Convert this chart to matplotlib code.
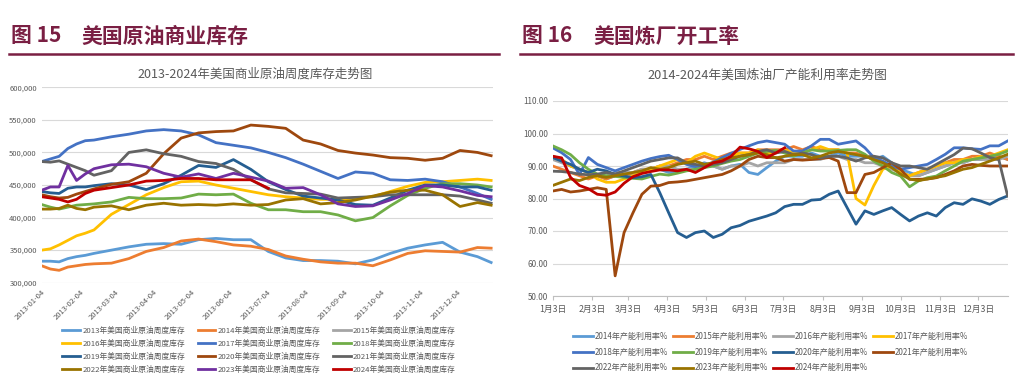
import matplotlib
matplotlib.use("Agg")
import matplotlib.pyplot as plt
from datetime import date

plt.rcParams['font.family'] = ['Noto Sans CJK SC', 'DejaVu Sans']

# ---- 图15: 美国商业原油周度库存 (千桶), x = 距 2013-01-04 的天数 ----
stock_days = [0, 7, 14, 21, 28, 35, 42, 56, 70, 84, 98, 112, 126, 140, 154,
              168, 182, 196, 210, 224, 238, 252, 266, 280, 294, 308, 322, 336, 350, 361]
stock_years = ['2013', '2014', '2015', '2016', '2017', '2018',
               '2019', '2020', '2021', '2022', '2023', '2024']
stock_2013 = [333, 333, 332, 337, 340, 342, 345, 350, 355, 359, 360, 359, 366, 368, 366,
              366, 348, 338, 334, 334, 333, 329, 335, 345, 353, 358, 362, 347, 340, 331]
stock_2014 = [326, 321, 319, 324, 326, 328, 329, 330, 337, 348, 354, 364, 367, 363, 358,
              356, 351, 341, 336, 332, 330, 330, 326, 335, 345, 349, 348, 347, 354, 353]
stock_2015 = []
stock_2016 = [350, 352, 358, 365, 372, 376, 381, 405, 420, 435, 446, 455, 456, 450, 445,
              440, 435, 432, 430, 428, 428, 430, 432, 440, 448, 454, 455, 457, 459, 457]
stock_2017 = [486, 490, 494, 506, 513, 518, 519, 524, 528, 533, 535, 533, 527, 515, 511,
              507, 500, 492, 482, 471, 460, 470, 468, 458, 457, 459, 455, 447, 437, 428]
stock_2018 = [420, 416, 413, 416, 419, 420, 421, 424, 431, 429, 429, 430, 436, 435, 436,
              422, 412, 412, 409, 409, 404, 395, 400, 418, 434, 445, 452, 452, 450, 447]
stock_2019 = [440, 438, 437, 445, 447, 447, 449, 452, 450, 443, 452, 465, 480, 477, 489,
              474, 455, 443, 433, 430, 427, 420, 419, 430, 442, 450, 450, 447, 447, 442]
stock_2020 = [435, 432, 430, 431, 436, 440, 444, 451, 455, 468, 498, 522, 530, 532, 533,
              542, 540, 537, 519, 513, 503, 499, 496, 492, 491, 488, 491, 503, 500, 495]
stock_2021 = [486, 485, 487, 482, 477, 472, 465, 472, 500, 504, 498, 494, 486, 483, 474,
              458, 444, 438, 437, 436, 430, 431, 432, 435, 435, 435, 435, 433, 427, 422]
stock_2022 = [413, 413, 414, 419, 414, 412, 416, 418, 412, 419, 422, 419, 420, 419, 421,
              419, 420, 427, 429, 421, 423, 427, 433, 439, 442, 442, 435, 417, 423, 419]
stock_2023 = [442, 447, 447, 480, 457, 467, 475, 481, 482, 478, 468, 462, 467, 460, 468,
              462, 456, 445, 446, 435, 421, 417, 418, 427, 437, 449, 447, 441, 434, 432]
stock_2024 = [432, 430, 428, 424, 428, 437, 442, 446, 450, 456, 457, 460, 460, 458, 458,
              458, 445]
stock_series = [stock_2013, stock_2014, stock_2015, stock_2016, stock_2017, stock_2018,
                stock_2019, stock_2020, stock_2021, stock_2022, stock_2023, stock_2024]
stock_colors = ['#5B9BD5', '#ED7D31', '#A5A5A5', '#FFC000', '#4472C4', '#70AD47',
                '#255E91', '#9E480E', '#636363', '#997300', '#7030A0', '#C00000']

# ---- 图16: 美国炼厂产能利用率 (%), 每周一个点, x = 距 1月3日 的天数 ----
util_weeks = list(range(52))
util_years = ['2014', '2015', '2016', '2017', '2018', '2019',
              '2020', '2021', '2022', '2023', '2024']
util_2014 = [93, 92, 90, 89, 88, 87, 86, 87, 88, 87, 88, 89, 89, 88, 88, 89,
             90, 91, 90, 89, 90, 90.5, 88, 87.4, 89.5, 91.5, 93, 93, 93, 94, 93, 93,
             94, 93, 93, 93, 92, 93, 91, 89, 88, 87, 88, 89, 90, 91, 91, 92,
             92, 93, 93, 92]
util_2015 = [90, 89, 88, 87, 86, 87, 86, 87, 87, 88, 89, 89, 90, 90, 91, 92,
             92, 93, 92, 93, 94, 94, 94, 95, 95, 95, 95, 96, 95, 96, 95, 95,
             95, 94, 94, 93, 93, 91, 90, 88, 87, 88, 89, 90, 91, 92, 92, 93,
             93, 94, 93, 92]
util_2016 = [92, 91, 90, 89, 88, 87, 87, 88, 88, 88, 89, 89, 90, 90, 89, 89,
             89, 90, 90, 89, 90, 90, 91, 90, 91, 91, 91, 92, 92, 92, 92, 93,
             93, 92, 92, 91, 91, 90, 89, 88, 87, 87, 88, 89, 90, 91, 91, 92,
             92, 92, 92, 93]
util_2017 = [93, 92, 90, 89, 88, 86, 85, 85, 86, 87, 88, 89, 90, 91, 92, 91,
             93, 94, 93, 92, 93, 94, 94, 95, 94, 94, 95, 94, 94, 95, 96, 95,
             95, 94, 80, 78, 84, 89, 90, 88, 87, 88, 89, 90, 91, 91, 92, 92,
             93, 93, 94, 95]
util_2018 = [95.6, 94.1, 92.0, 87.4, 92.6, 90.5, 89.5, 88.5, 89.5, 90.5, 91.5, 92.3, 92.9,
             93.3, 92.0, 90.5, 89.8, 90.0, 91.2, 92.6, 93.9, 95.1, 96.2, 97.2, 97.7, 97.2,
             96.7, 94.6, 94.6, 96.2, 98.2, 98.2, 96.7, 97.2, 97.7, 95.6, 92.6, 91.5, 90.0,
             89.0, 89.5, 90.0, 90.5, 92.0, 93.6, 95.6, 95.6, 95.3, 95.1, 96.2, 96.2, 97.7]
util_2019 = [96.2, 95.0, 93.5, 91.0, 89.0, 87.5, 87.0, 86.8, 86.5, 86.2, 86.0, 86.8, 87.5,
             87.2, 87.8, 88.5, 89.0, 89.5, 90.0, 90.8, 91.5, 92.0, 93.0, 94.0, 94.5, 94.8,
             94.0, 93.0, 94.0, 95.0, 94.6, 94.6, 94.8, 95.0, 95.0, 93.6, 91.5, 90.0, 88.0,
             86.9, 83.6, 85.4, 86.4, 86.9, 88.5, 90.0, 91.5, 92.0, 92.5, 93.0, 93.6, 94.6]
util_2020 = [92.6, 91.5, 90.5, 89.0, 88.0, 89.0, 88.5, 87.4, 86.9, 86.4, 86.7, 87.4, 81.8,
             75.6, 69.5, 68.0, 69.5, 70.0, 68.0, 69.0, 71.0, 71.7, 73.0, 73.8, 74.6, 75.6,
             77.5, 78.2, 78.2, 79.5, 79.7, 81.3, 82.3, 77.2, 72.1, 76.2, 75.1, 76.2, 77.2,
             75.1, 73.1, 74.6, 75.6, 74.6, 77.2, 78.7, 78.2, 79.9, 79.2, 78.2, 79.7, 80.8]
util_2021 = [82.3, 82.8, 82.0, 82.3, 82.8, 83.3, 82.8, 56.2, 69.5, 75.6, 81.3, 83.8, 84.0,
             84.9, 85.1, 85.4, 85.9, 86.4, 86.9, 87.4, 88.5, 90.0, 92.0, 93.0, 92.6, 92.6,
             91.5, 92.0, 91.8, 92.0, 92.3, 92.6, 91.5, 81.8, 81.8, 87.4, 88.0, 89.5, 91.0,
             89.0, 85.9, 85.9, 86.0, 86.4, 87.4, 88.5, 90.0, 90.5, 90.2, 90.0, 90.0, 90.0]
util_2022 = [88.4, 88.3, 88.0, 87.5, 87.3, 87.5, 88.0, 87.5, 88.5, 89.5, 90.5, 91.5, 92.0,
             92.5, 92.5, 91.0, 90.5, 90.0, 90.5, 91.0, 92.0, 93.0, 93.5, 94.5, 95.0, 94.0,
             94.5, 93.5, 94.0, 93.5, 92.5, 93.0, 93.0, 92.5, 91.5, 92.5, 93.0, 92.5, 91.0,
             90.0, 90.0, 89.5, 89.0, 90.5, 92.0, 93.5, 95.5, 95.3, 94.0, 92.6, 92.0, 80.8]
util_2023 = [84.0, 85.0, 86.0, 85.5, 86.5, 87.0, 86.5, 87.0, 87.5, 88.0, 88.5, 89.5, 89.0,
             89.5, 90.5, 91.0, 91.5, 90.5, 91.0, 92.0, 92.5, 93.0, 93.5, 94.0, 93.5, 92.5,
             93.0, 93.5, 93.5, 92.5, 93.0, 94.0, 94.5, 94.0, 93.5, 93.0, 92.0, 91.0, 89.5,
             87.5, 86.0, 85.5, 86.0, 86.5, 87.0, 88.0, 89.0, 89.5, 90.5, 91.5, 92.5, 93.6]
util_2024 = [93.0, 92.5, 86.5, 84.0, 83.0, 81.3, 81.0, 82.0, 84.7, 86.7, 87.7, 88.3, 88.8,
             88.8, 88.5, 89.0, 88.0, 89.5, 91.0, 91.5, 93.0, 95.8, 95.3, 94.5, 92.6, 94.0, 95.6]
util_series = [util_2014, util_2015, util_2016, util_2017, util_2018, util_2019,
               util_2020, util_2021, util_2022, util_2023, util_2024]
util_colors = ['#5B9BD5', '#ED7D31', '#A5A5A5', '#FFC000', '#4472C4', '#70AD47',
               '#255E91', '#9E480E', '#636363', '#997300', '#C00000']

W, H = 1022, 383
MAROON = '#7A1F43'
GREY = '#595959'
fig = plt.figure(figsize=(W / 100, H / 100), dpi=100)


def px(x0, y0, x1, y1):
    return [x0 / W, 1 - y1 / H, (x1 - x0) / W, (y1 - y0) / H]


def reorder(items, ncol):
    # matplotlib fills legend columns first; reorder so it reads row by row
    out = []
    for c in range(ncol):
        out += items[c::ncol]
    return out


# headers
hdr = dict(color=MAROON, fontsize=15, fontweight='heavy', va='center')
fig.text(11 / W, 1 - 36 / H, '图 15', **hdr)
fig.text(81 / W, 1 - 36 / H, '美国原油商业库存', **hdr)
fig.text(522 / W, 1 - 36 / H, '图 16', **hdr)
fig.text(593 / W, 1 - 36 / H, '美国炼厂开工率', **hdr)
fig.add_artist(plt.Line2D([9 / W, 499 / W], [1 - 54 / H] * 2, color=MAROON, lw=1.8))
fig.add_artist(plt.Line2D([520 / W, 1013 / W], [1 - 54 / H] * 2, color=MAROON, lw=1.8))

fig.text(255 / W, 1 - 74 / H, '2013-2024年美国商业原油周度库存走势图', color=GREY,
         fontsize=9, ha='center', va='center')
fig.text(767 / W, 1 - 75 / H, '2014-2024年美国炼油厂产能利用率走势图', color=GREY,
         fontsize=9.2, ha='center', va='center')

# ---- left chart ----
ax1 = fig.add_axes(px(41.7, 87.3, 493, 282.7))
lines1 = []
for yr, vals, c in zip(stock_years, stock_series, stock_colors):
    ln, = ax1.plot(stock_days[:len(vals)], [v * 1000 for v in vals], color=c, lw=2,
                   label=yr + '年美国商业原油周度库存')
    lines1.append(ln)
ax1.set_ylim(300000, 600000)
ax1.set_yticks(range(300000, 600001, 50000))
ax1.set_yticklabels([f'{v:,}' for v in range(300000, 600001, 50000)])
ax1.set_xlim(0, 362.5)
base = date(2013, 1, 4)
mticks = [(date(2013, m, 4) - base).days for m in range(1, 13)]
ax1.set_xticks(mticks)
ax1.set_xticklabels([f'2013-{m:02d}-04' for m in range(1, 13)], rotation=45,
                    ha='right', rotation_mode='anchor')
ax1.grid(axis='y', color='#D9D9D9', lw=0.8)
ax1.set_axisbelow(True)
for s in ax1.spines.values():
    s.set_visible(False)
ax1.tick_params(axis='both', length=0, labelsize=5.5, colors=GREY)
ax1.tick_params(axis='x', pad=4)

fig.legend(reorder(lines1, 3), reorder([l.get_label() for l in lines1], 3),
           ncol=3, loc='center', bbox_to_anchor=(259 / W, 1 - 350.5 / H),
           frameon=False, fontsize=5.6, handlelength=2.3, handletextpad=0.3,
           columnspacing=1.6, labelspacing=0.62, labelcolor=GREY)

# ---- right chart ----
ax2 = fig.add_axes(px(552.7, 101, 1008.3, 296))
lines2 = []
for yr, vals, c in zip(util_years, util_series, util_colors):
    ln, = ax2.plot([7 * w for w in util_weeks[:len(vals)]], vals, color=c, lw=2,
                   label=yr + '年产能利用率%')
    lines2.append(ln)
ax2.set_ylim(50, 110)
ax2.set_yticks(range(50, 111, 10))
ax2.set_yticklabels([f'{v:.2f}' for v in range(50, 111, 10)])
ax2.set_xlim(0, 357.5)
base2 = date(2023, 1, 3)
ax2.set_xticks([(date(2023, m, 3) - base2).days for m in range(1, 13)])
ax2.set_xticklabels([f'{m}月3日' for m in range(1, 13)])
ax2.grid(axis='y', color='#D9D9D9', lw=0.8)
ax2.set_axisbelow(True)
for k, s in ax2.spines.items():
    s.set_visible(k == 'bottom')
ax2.spines['bottom'].set_color('#BFBFBF')
ax2.tick_params(axis='y', length=0, labelsize=5.8, colors=GREY)
ax2.tick_params(axis='x', length=3, color='#BFBFBF', labelsize=6.3, colors=GREY)

fig.legend(reorder(lines2, 4), reorder([l.get_label() for l in lines2], 4),
           ncol=4, loc='center', bbox_to_anchor=(771 / W, 1 - 352 / H),
           frameon=False, fontsize=5.8, handlelength=2.4, handletextpad=0.3,
           columnspacing=0.6, labelspacing=0.85, labelcolor=GREY)

fig.savefig('out.png', dpi=100)
